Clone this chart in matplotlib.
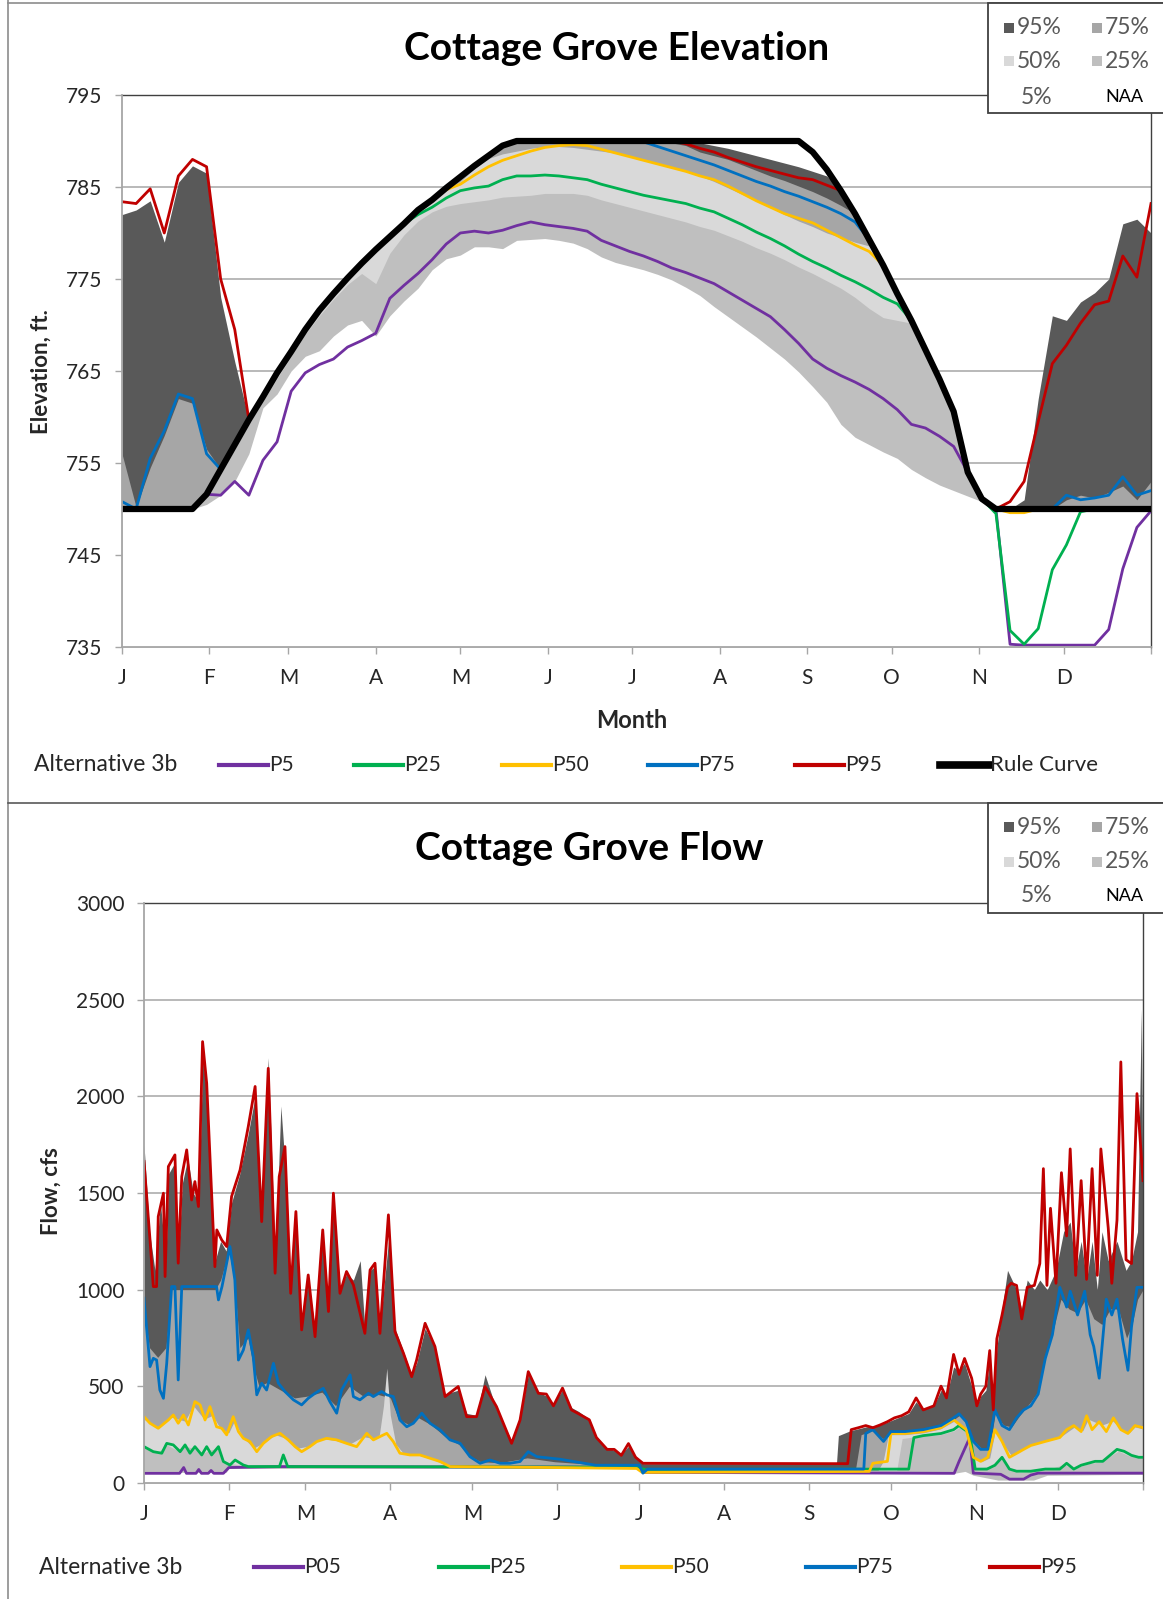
import numpy as np
import matplotlib
matplotlib.use("Agg")
import matplotlib.pyplot as plt
from matplotlib.lines import Line2D
from matplotlib.patches import Rectangle

plt.rcParams['font.family'] = ['Lato', 'DejaVu Sans']

W, H = 1163, 1599

# ---------------- elevation data (ft), every 5 days ----------------
elev_days = list(range(0, 366, 5))

rule_curve = [750, 750, 750, 750, 750, 750, 751.6, 754.3, 757.0, 759.7,
              762.2, 764.8, 767.1, 769.5, 771.6, 773.4, 775.1, 776.7, 778.2, 779.6,
              781.0, 782.5, 783.6, 784.9, 786.1, 787.3, 788.4, 789.5, 790, 790,
              790, 790, 790, 790, 790, 790, 790, 790, 790, 790,
              790, 790, 790, 790, 790, 790, 790, 790, 790, 788.8,
              786.9, 784.6, 782.1, 779.3, 776.5, 773.4, 770.5, 767.3, 764.1, 760.6,
              754.0, 751.1, 750, 750, 750, 750, 750, 750, 750, 750,
              750, 750, 750, 750]

elev_p95 = [783.4, 783.2, 784.8, 780.0, 786.2, 788.0, 787.2, 775.0, 769.5, 759.7,
            762.2, 764.8, 767.1, 769.5, 771.6, 773.4, 775.1, 776.7, 778.2, 779.6,
            781.0, 782.5, 783.6, 784.9, 786.1, 787.3, 788.4, 789.5, 790, 790,
            790, 790, 790, 790, 790, 790, 790, 790, 790, 790,
            789.7, 789.2, 788.8, 788.2, 787.7, 787.2, 786.8, 786.4, 786.0, 785.8,
            785.2, 784.6, 782.1, 779.3, 776.5, 773.4, 770.5, 767.3, 764.1, 760.6,
            754.0, 751.1, 750, 750.8, 753.0, 759.5, 765.8, 767.8, 770.2, 772.2,
            772.6, 777.5, 775.2, 783.2]

elev_p75 = [750.8, 750, 755.5, 758.5, 762.5, 762.0, 756.0, 754.3, 757.0, 759.7,
            762.2, 764.8, 767.1, 769.5, 771.6, 773.4, 775.1, 776.7, 778.2, 779.6,
            781.0, 782.5, 783.6, 784.9, 786.1, 787.3, 788.4, 789.5, 790, 790,
            790, 790, 790, 790, 790, 790, 790, 789.9, 789.4, 788.9,
            788.4, 787.9, 787.4, 786.8, 786.2, 785.6, 785.1, 784.5, 784.0, 783.4,
            782.8, 782.1, 781.2, 779.3, 776.5, 773.4, 770.5, 767.3, 764.1, 760.6,
            754.0, 751.1, 750, 750, 750, 750, 750, 751.5, 751.0, 751.2,
            751.5, 753.5, 751.5, 752.0]

elev_p50 = [750, 750, 750, 750, 750, 750, 751.6, 754.3, 757.0, 759.7,
            762.2, 764.8, 767.1, 769.5, 771.6, 773.4, 775.1, 776.7, 778.2, 779.6,
            781.0, 782.5, 783.6, 784.7, 785.3, 786.3, 787.2, 787.9, 788.4, 788.9,
            789.3, 789.5, 789.6, 789.5, 789.1, 788.7, 788.3, 787.9, 787.5, 787.1,
            786.7, 786.2, 785.8, 785.1, 784.3, 783.5, 782.8, 782.1, 781.6, 781.1,
            780.3, 779.5, 778.7, 778.0, 776.5, 773.4, 770.5, 767.3, 764.1, 760.6,
            754.0, 751.1, 750, 749.6, 749.6, 750, 750, 750, 750, 750,
            750, 750, 750, 750]

elev_p25 = [750, 750, 750, 750, 750, 750, 751.6, 754.3, 757.0, 759.7,
            762.2, 764.8, 767.1, 769.5, 771.6, 773.4, 775.1, 776.7, 778.2, 779.6,
            781.0, 782.0, 782.8, 783.8, 784.6, 784.9, 785.1, 785.8, 786.2, 786.2,
            786.3, 786.2, 786.0, 785.8, 785.3, 784.9, 784.5, 784.1, 783.8, 783.5,
            783.2, 782.7, 782.3, 781.6, 780.9, 780.1, 779.4, 778.6, 777.7, 776.9,
            776.2, 775.4, 774.7, 773.9, 773.0, 772.3, 770.5, 767.3, 764.1, 760.6,
            754.0, 751.1, 749.5, 736.8, 735.3, 737.0, 743.4, 746.1, 749.7, 750,
            750, 750, 750, 750]

elev_p5 = [750, 750, 750, 750, 750, 750, 751.6, 751.5, 753.0, 751.5,
           755.3, 757.3, 762.8, 764.8, 765.7, 766.3, 767.6, 768.3, 769.1, 772.9,
           774.3, 775.6, 777.1, 778.8, 780.0, 780.2, 780.0, 780.3, 780.8, 781.2,
           780.9, 780.7, 780.5, 780.2, 779.2, 778.6, 778.0, 777.5, 776.9, 776.2,
           775.7, 775.1, 774.5, 773.6, 772.7, 771.8, 770.9, 769.5, 768.0, 766.3,
           765.3, 764.5, 763.8, 763.0, 762.0, 760.8, 759.2, 758.8, 757.9, 756.8,
           754.0, 751.1, 750, 735.3, 735.2, 735.2, 735.2, 735.2, 735.2, 735.2,
           736.9, 743.5, 748.0, 749.8]

# No Action Alternative percentile bands
naa_elev_p95 = [782.0, 782.5, 783.5, 779.0, 785.5, 787.3, 786.5, 773.0, 766.0, 759.7,
                762.2, 764.8, 767.1, 769.5, 771.6, 773.4, 775.1, 776.7, 778.2, 779.6,
                781.0, 782.5, 783.6, 784.9, 786.1, 787.3, 788.4, 789.5, 790, 790,
                790, 790, 790, 790, 790, 790, 790, 790, 790, 790,
                790, 789.8, 789.5, 789.2, 788.8, 788.4, 788.0, 787.6, 787.2, 786.7,
                786.2, 784.6, 782.1, 779.3, 776.5, 773.4, 770.5, 767.3, 764.1, 760.6,
                754.0, 751.1, 750, 750, 751.0, 762.0, 771.0, 770.5, 772.5, 773.5,
                775.0, 781.0, 781.5, 780.0]

naa_elev_p75 = [756.0, 750.2, 754.5, 758.0, 762.0, 761.5, 756.5, 754.3, 757.0, 759.7,
                762.2, 764.8, 767.1, 769.5, 771.6, 773.4, 775.1, 776.7, 778.2, 779.6,
                781.0, 782.5, 783.6, 784.9, 786.1, 787.3, 788.4, 789.5, 790, 790,
                790, 790, 790, 790, 790, 790, 790, 790, 790, 789.8,
                789.5, 788.8, 788.4, 788.0, 787.4, 786.8, 786.2, 785.7, 785.1, 784.5,
                783.8, 783.0, 782.1, 779.3, 776.5, 773.4, 770.5, 767.3, 764.1, 760.6,
                754.0, 751.1, 750, 750, 750, 750, 750, 751.0, 751.5, 751.2,
                751.8, 752.5, 751.0, 753.0]

naa_elev_p50 = [750, 750, 750, 750, 750, 750, 751.4, 754.1, 756.8, 759.5,
                762.0, 764.6, 766.9, 769.3, 771.4, 773.2, 774.9, 776.5, 778.0, 779.4,
                780.8, 782.2, 783.4, 784.6, 785.6, 787.0, 788.1, 788.6, 788.9, 789.2,
                789.4, 789.4, 789.3, 789.1, 788.9, 788.7, 788.3, 787.9, 787.6, 787.2,
                786.7, 786.2, 785.6, 784.9, 784.2, 783.5, 782.8, 782.0, 781.3, 780.7,
                780.0, 779.5, 779.0, 778.6, 776.5, 773.4, 770.5, 767.3, 764.1, 760.6,
                754.0, 751.1, 750, 750, 750, 750, 750, 750, 750, 750,
                750, 750, 750, 750]

naa_elev_p25 = [750, 750, 750, 750, 750, 750, 751.2, 753.8, 756.5, 759.2,
                761.7, 764.2, 766.6, 769.0, 771.0, 772.8, 774.4, 775.6, 774.5, 777.8,
                779.8, 781.3, 782.3, 782.9, 783.2, 783.4, 783.6, 783.9, 784.0, 784.1,
                784.3, 784.3, 784.3, 784.1, 783.6, 783.2, 782.8, 782.4, 782.0, 781.6,
                781.2, 780.7, 780.3, 779.7, 779.1, 778.4, 777.8, 777.1, 776.3, 775.6,
                774.8, 774.0, 773.0, 771.8, 770.8, 770.5, 770.2, 767.3, 764.1, 760.6,
                754.0, 751.1, 750, 750, 750, 750, 750, 750, 750, 750,
                750, 750, 750, 750]

naa_elev_p5 = [750, 750, 750, 750, 750, 750, 750.5, 751.5, 753.0, 756.0,
               761.0, 762.5, 765.0, 766.6, 767.2, 768.8, 770.0, 770.5, 768.8, 771.0,
               772.6, 774.0, 776.0, 777.2, 777.6, 778.5, 778.5, 778.3, 779.2, 779.3,
               779.4, 779.2, 778.9, 778.3, 777.4, 776.8, 776.4, 776.0, 775.5, 774.9,
               774.1, 773.2, 772.0, 770.9, 769.8, 768.7, 767.5, 766.3, 764.9, 763.3,
               761.6, 759.2, 757.8, 757.0, 756.2, 755.5, 754.3, 753.4, 752.6, 752.0,
               751.4, 750.8, 750, 750, 750, 750, 750, 750, 750, 750,
               750, 750, 750, 750]

# ---------------- flow data (cfs), (day, value) ----------------
flow_p95 = [(0, 1663), (2.2, 1257), (3.4, 1016), (4.6, 1016), (5.2, 1378), (7.1, 1499), (7.7, 1068),
            (8.9, 1637), (11.3, 1697), (12.5, 1137), (13.8, 1585), (15.6, 1723), (17.4, 1464),
            (18.6, 1559), (19.9, 1430), (21.4, 2283), (22.9, 2068), (25.9, 1119), (26.6, 1309),
            (28.4, 1257), (30.2, 1223), (32.0, 1482), (35.1, 1619), (38.1, 1844), (40.6, 2051),
            (43.0, 1352), (45.4, 2145), (47.9, 1085), (49.4, 1585), (51.5, 1740), (53.6, 981),
            (55.5, 1404), (57.6, 792), (60.0, 1076), (62.5, 757), (65.3, 1309), (67.4, 887),
            (69.2, 1499), (71.6, 981), (74.0, 1094), (76.5, 1025), (80.7, 774), (82.6, 1102),
            (84.4, 1137), (86.2, 774), (89.3, 1387), (91.7, 783), (94.8, 671), (97.8, 550),
            (99.6, 636), (102.7, 826), (106.3, 706), (110.0, 447), (114.8, 499), (117.9, 343),
            (121.5, 343), (124.6, 499), (128.8, 395), (134.3, 205), (137.4, 326), (140.4, 576),
            (144.1, 464), (147.0, 460), (149.6, 399), (152.9, 491), (156.2, 378), (158.8, 358),
            (162.7, 327), (165.3, 235), (169.2, 174), (171.8, 174), (174.4, 143), (177.0, 204),
            (179.6, 133), (182.3, 102), (257.1, 100), (258.4, 276), (261.0, 286), (263.7, 297),
            (266.3, 286), (268.9, 300), (271.6, 317), (274.2, 337), (276.8, 348), (279.4, 368),
            (282.1, 440), (284.7, 378), (288.6, 399), (291.2, 501), (293.2, 440), (295.8, 665),
            (297.8, 562), (299.8, 644), (302.4, 542), (304.3, 399), (305.7, 460), (307.6, 501),
            (309.0, 685), (310.3, 378), (311.6, 746), (313.5, 869), (315.5, 1012), (316.8, 1033),
            (318.8, 1022), (320.7, 849), (322.7, 1012), (325.3, 1022), (327.3, 1135), (328.6, 1626),
            (329.9, 1022), (331.2, 1421), (333.2, 1033), (335.2, 1605), (337.1, 1278), (338.4, 1728),
            (340.4, 1074), (342.4, 1564), (344.4, 1053), (346.4, 1626), (348.3, 1074), (349.6, 1728),
            (352.3, 1319), (353.6, 1033), (355.5, 1360), (356.9, 2178), (358.8, 1155), (360.8, 1135),
            (362.8, 2014), (365, 1564)]

flow_p75 = [(0, 956), (2.2, 602), (3.4, 645), (4.6, 636), (5.8, 481), (7.1, 438), (8.3, 619),
            (10.1, 1016), (11.3, 1016), (12.5, 533), (13.8, 1016), (26.5, 1016), (27.2, 947),
            (28.5, 1016), (31.4, 1223), (33.2, 1050), (34.5, 636), (36.3, 688), (38.1, 792),
            (39.9, 654), (41.2, 456), (43.0, 516), (44.8, 481), (47.3, 619), (49.1, 516),
            (51.5, 473), (54.6, 430), (57.6, 404), (60.0, 438), (62.5, 464), (65.5, 490),
            (67.9, 421), (70.4, 361), (72.2, 481), (75.3, 559), (76.5, 447), (78.9, 430),
            (82.0, 464), (83.8, 447), (86.8, 473), (88.7, 456), (91.1, 447), (93.5, 326),
            (96.0, 291), (98.4, 309), (101.5, 361), (104.5, 309), (108.2, 274), (111.8, 223),
            (115.5, 205), (119.1, 136), (122.8, 102), (126.4, 119), (130.1, 102), (133.7, 102),
            (137.4, 111), (140.4, 162), (143.5, 136), (152.0, 123), (165.0, 92), (181.0, 92),
            (182.3, 51), (184.0, 72), (263.0, 72), (263.7, 256), (266.3, 276), (270.2, 215),
            (272.9, 266), (278.1, 266), (284.7, 276), (291.2, 297), (295.8, 337), (297.8, 358),
            (300.4, 317), (303.0, 215), (305.7, 174), (308.3, 174), (310.9, 378), (313.5, 297),
            (316.2, 276), (318.8, 337), (321.4, 378), (324.0, 399), (326.7, 460), (329.3, 644),
            (331.9, 767), (334.6, 1012), (337.1, 910), (338.4, 992), (341.1, 869), (343.7, 992),
            (345.7, 767), (347.0, 706), (349.0, 542), (351.6, 951), (353.6, 869), (355.5, 951),
            (357.5, 746), (359.5, 583), (360.8, 808), (362.8, 1012), (365, 1012)]

flow_p50 = [(0, 343), (2.2, 309), (5.2, 283), (8.9, 326), (10.7, 352), (12.5, 309), (14.4, 352),
            (16.2, 300), (18.6, 421), (20.5, 404), (22.3, 326), (24.1, 395), (26.5, 291),
            (28.4, 283), (30.2, 249), (32.6, 343), (34.5, 266), (36.3, 231), (38.7, 214),
            (41.2, 162), (43.6, 205), (46.6, 240), (49.7, 257), (52.7, 223), (55.2, 188),
            (57.6, 162), (60.6, 188), (63.1, 214), (66.7, 231), (70.4, 223), (74.0, 205),
            (77.7, 188), (81.4, 257), (83.8, 223), (86.2, 240), (88.7, 257), (91.1, 214),
            (93.5, 154), (97.2, 145), (100.8, 145), (104.5, 128), (108.2, 111), (111.8, 85),
            (150.0, 80), (180.0, 75), (182.0, 55), (265.0, 60), (266.3, 102), (271.6, 112),
            (272.9, 256), (278.1, 256), (284.7, 266), (291.2, 286), (295.8, 327), (300.4, 276),
            (303.0, 133), (305.7, 112), (308.3, 133), (310.9, 276), (313.5, 215), (316.2, 133),
            (318.8, 153), (321.4, 174), (324.0, 194), (329.3, 215), (334.6, 235), (337.1, 276),
            (339.7, 297), (342.4, 266), (344.4, 348), (346.4, 276), (349.0, 317), (351.6, 266),
            (354.2, 337), (356.9, 276), (359.5, 256), (362.1, 297), (365, 286)]

flow_p25 = [(0, 188), (3.4, 162), (6.5, 154), (8.3, 205), (10.7, 197), (13.2, 162), (15.0, 197),
            (16.8, 154), (18.6, 188), (21.1, 145), (22.9, 188), (24.7, 145), (27.2, 188),
            (29.0, 111), (31.4, 93), (33.3, 119), (36.3, 93), (38.1, 85), (49.5, 85), (50.9, 145),
            (52.5, 85), (180.0, 82), (183.0, 70), (279.4, 72), (281.3, 235), (284.7, 245),
            (291.2, 256), (295.8, 276), (297.8, 297), (301.7, 256), (303.7, 72), (308.0, 72),
            (310.9, 92), (313.5, 133), (316.2, 72), (318.8, 61), (324.0, 61), (329.3, 72),
            (334.6, 72), (337.1, 102), (339.7, 72), (342.4, 92), (347.5, 112), (350.3, 112),
            (352.9, 143), (355.5, 174), (358.1, 164), (360.8, 143), (363.4, 133), (365, 133)]

flow_p05 = [(0, 50), (13.0, 50), (14.5, 80), (15.5, 50), (19.0, 50), (20.0, 70), (21.0, 50),
            (23.5, 50), (24.5, 65), (25.5, 50), (29.0, 50), (31.0, 80), (50.0, 85), (180.0, 82),
            (183.0, 55), (296.0, 50), (297.8, 112), (300.4, 194), (301.7, 235), (303.0, 51),
            (313.0, 45), (316.2, 20), (321.4, 20), (324.0, 41), (326.7, 51), (365, 51)]

naa_flow_p95 = [(0, 1750), (2, 1300), (4, 1100), (6, 1450), (8, 1150), (9, 1600), (11, 1650),
                (12.5, 1150), (14, 1550), (16, 1680), (18, 1500), (20, 1450), (21.5, 2200),
                (23, 2000), (26, 1150), (28, 1250), (30, 1200), (32, 1450), (35, 1600), (38, 1800),
                (40.6, 2000), (43, 1380), (45.4, 2200), (48, 1150), (50, 1950), (51.5, 1650),
                (53.6, 1000), (55.5, 1380), (57.6, 820), (60, 1050), (62.5, 800), (65.3, 1280),
                (67.4, 900), (69.2, 1450), (71.6, 1000), (74, 1080), (76.5, 1050), (79, 1150),
                (80.7, 800), (82.6, 1100), (84.4, 1120), (86.2, 800), (89.3, 1250), (91.7, 800),
                (94.8, 680), (97.8, 560), (99.6, 620), (102.7, 800), (106.3, 700), (110, 460),
                (114.8, 480), (117.9, 360), (121.5, 350), (124.6, 560), (128.8, 380), (134.3, 220),
                (137.4, 330), (140.4, 560), (144.1, 470), (147, 450), (149.6, 410), (152.9, 480),
                (156.2, 390), (158.8, 370), (162.7, 330), (165.3, 240), (169.2, 180), (171.8, 170),
                (174.4, 150), (177, 190), (179.6, 140), (182.3, 100), (253, 100), (253.7, 245),
                (258, 270), (263.7, 290), (268.9, 300), (274.2, 330), (279.4, 360), (282.1, 420),
                (284.7, 380), (288.6, 400), (291.2, 480), (293.2, 450), (295.8, 600), (297.8, 580),
                (299.8, 620), (302.4, 500), (304.3, 400), (305.7, 450), (307.6, 480), (309, 640),
                (310.3, 400), (311.6, 700), (313.5, 900), (315.5, 1100), (318.8, 1000),
                (320.7, 900), (322.7, 1050), (325.3, 1000), (327.3, 1050), (330, 1000),
                (333.2, 1100), (336, 1300), (338.4, 1350), (340.4, 1100), (342.4, 1250),
                (344.4, 1050), (346.4, 1250), (348.3, 1000), (350, 1300), (352.3, 1150),
                (355.5, 1250), (358.8, 1100), (360.8, 1150), (363, 1300), (364.4, 2450), (365, 1400)]

naa_flow_p75 = [(0, 900), (2, 700), (5, 650), (8, 700), (10, 1000), (26, 1000), (28, 1050),
                (31, 1200), (33, 1050), (35, 700), (38, 750), (40, 600), (42, 500), (45, 520),
                (50, 480), (55, 440), (60, 450), (65, 470), (70, 400), (75, 500), (80, 450),
                (85, 460), (90, 440), (93, 330), (97, 300), (100, 340), (105, 300), (110, 240),
                (115, 200), (119, 140), (123, 110), (130, 105), (140, 130), (150, 110), (165, 95),
                (180, 90), (182, 75), (260, 75), (262, 250), (266, 270), (270, 230), (275, 260),
                (280, 265), (285, 275), (291, 295), (296, 330), (298, 350), (300, 320), (303, 220),
                (306, 180), (309, 180), (311, 360), (314, 300), (317, 290), (320, 350), (324, 420),
                (327, 480), (329, 640), (332, 780), (335, 950), (338, 900), (341, 880), (344, 950),
                (347, 850), (350, 820), (353, 900), (356, 900), (359, 750), (361, 820), (363, 950),
                (365, 1000)]

naa_flow_p50 = [(0, 330), (5, 290), (10, 340), (15, 320), (18, 400), (22, 330), (25, 350),
                (28, 280), (31, 260), (33, 320), (36, 240), (40, 180), (44, 210), (48, 250),
                (52, 230), (56, 180), (60, 190), (65, 230), (70, 220), (75, 200), (80, 240),
                (84, 230), (86, 250), (87.5, 400), (88.7, 594), (90, 350), (92, 200), (95, 150),
                (100, 145), (105, 125), (110, 95), (115, 85), (180, 75), (182, 60), (268, 60),
                (270, 110), (272, 250), (278, 250), (285, 260), (291, 280), (296, 320), (300, 270),
                (303, 130), (306, 110), (309, 130), (311, 270), (314, 200), (317, 140), (320, 170),
                (324, 200), (330, 220), (335, 240), (340, 290), (343, 270), (345, 330), (350, 300),
                (354, 320), (357, 280), (360, 260), (362, 290), (365, 280)]

naa_flow_p25 = [(0, 180), (5, 155), (8, 200), (12, 170), (15, 190), (18, 180), (21, 150),
                (24, 170), (27, 180), (29, 115), (32, 100), (36, 90), (40, 85), (180, 80),
                (183, 65), (275, 65), (277, 230), (285, 245), (291, 250), (296, 270), (298, 290),
                (301, 250), (303, 70), (310, 90), (313, 130), (316, 70), (320, 55), (330, 70),
                (336, 95), (340, 75), (345, 100), (350, 110), (353, 140), (356, 165), (360, 140),
                (365, 130)]

naa_flow_p5 = [(0, 55), (30, 55), (31, 75), (180, 75), (183, 50), (296, 50), (300, 60),
               (303, 40), (312, 15), (325, 15), (330, 40), (365, 45)]

month_days = [0, 31, 59, 90, 120, 151, 181, 212, 243, 273, 304, 334]
month_labels = ['J', 'F', 'M', 'A', 'M', 'J', 'J', 'A', 'S', 'O', 'N', 'D']

band_colors = {'95%': '#595959', '75%': '#a6a6a6', '50%': '#d9d9d9', '25%': '#bfbfbf', '5%': '#ffffff'}
line_colors = {'P5': '#7030a0', 'P25': '#00b050', 'P50': '#ffc000', 'P75': '#0070c0', 'P95': '#c00000'}


def fx(px):
    return px / W


def fy(py):
    return 1 - py / H


def xy(pairs):
    return [p[0] for p in pairs], [p[1] for p in pairs]


def style_axes(ax, ymin, ymax, ystep):
    ax.set_xlim(0, 365)
    ax.set_ylim(ymin, ymax)
    ax.set_yticks(np.arange(ymin, ymax + 1, ystep))
    ax.set_xticks(month_days + [365])
    ax.set_xticklabels(month_labels + [''])
    ax.set_axisbelow(True)
    ax.yaxis.grid(True, color='#a6a6a6', lw=1.1)
    for s in ['top', 'right']:
        ax.spines[s].set_color('#404040')
        ax.spines[s].set_linewidth(1.0)
    for s in ['left', 'bottom']:
        ax.spines[s].set_color('#a6a6a6')
        ax.spines[s].set_linewidth(1.3)
        ax.spines[s].set_zorder(5)
    ax.tick_params(direction='out', length=5, width=1, color='#a6a6a6',
                   labelsize=15, labelcolor='#262626')
    ax.tick_params(axis='x', pad=10)
    ax.tick_params(axis='y', pad=9)


fig = plt.figure(figsize=(W / 100, H / 100), dpi=100)

# ---------------- elevation panel ----------------
ax1 = fig.add_axes([fx(122), fy(647), fx(1151 - 122), (647 - 95) / H])
style_axes(ax1, 735, 795, 10)
for lab, band in [('95%', naa_elev_p95), ('75%', naa_elev_p75), ('50%', naa_elev_p50),
                  ('25%', naa_elev_p25), ('5%', naa_elev_p5)]:
    ax1.fill_between(elev_days, 735, band, color=band_colors[lab], lw=0, zorder=1)
for lab, s in [('P5', elev_p5), ('P25', elev_p25), ('P50', elev_p50), ('P75', elev_p75), ('P95', elev_p95)]:
    ax1.plot(elev_days, s, color=line_colors[lab], lw=2.0, zorder=3, solid_joinstyle='round')
ax1.plot(elev_days, rule_curve, color='black', lw=4.5, zorder=4,
         solid_joinstyle='round', solid_capstyle='round')

# ---------------- flow panel ----------------
ax2 = fig.add_axes([fx(144), fy(1483), fx(1143 - 144), (1483 - 903) / H])
style_axes(ax2, 0, 3000, 500)
for lab, band in [('95%', naa_flow_p95), ('75%', naa_flow_p75), ('50%', naa_flow_p50),
                  ('25%', naa_flow_p25), ('5%', naa_flow_p5)]:
    d, v = xy(band)
    ax2.fill_between(d, 0, v, color=band_colors[lab], lw=0, zorder=1)
for lab, s in [('P5', flow_p05), ('P25', flow_p25), ('P50', flow_p50), ('P75', flow_p75), ('P95', flow_p95)]:
    d, v = xy(s)
    ax2.plot(d, v, color=line_colors[lab], lw=2.0, zorder=3, solid_joinstyle='round')

# ---------------- text ----------------
fig.text(fx(617), fy(49), 'Cottage Grove Elevation', ha='center', va='center',
         fontsize=28, fontweight='bold', color='black')
fig.text(fx(589), fy(848), 'Cottage Grove Flow', ha='center', va='center',
         fontsize=28, fontweight='bold', color='black')
fig.text(fx(41), fy(372), 'Elevation, ft.', rotation=90, ha='center', va='center',
         fontsize=16, fontweight='bold', color='#262626')
fig.text(fx(51), fy(1191), 'Flow, cfs', rotation=90, ha='center', va='center',
         fontsize=16, fontweight='bold', color='#262626')
fig.text(fx(632), fy(720), 'Month', ha='center', va='center',
         fontsize=17, fontweight='bold', color='#262626')

# ---------------- chart borders ----------------
border = '#8c8c8c'
fig.add_artist(Line2D([fx(8), fx(8)], [fy(0), fy(H)], color=border, lw=1.2))
fig.add_artist(Line2D([fx(8), 1], [fy(3), fy(3)], color=border, lw=1.2))
fig.add_artist(Line2D([fx(8), 1], [fy(803), fy(803)], color='#595959', lw=1.2))

# ---------------- series legends ----------------
def series_legend(ybase, xtitle, items):
    fig.text(fx(xtitle), fy(ybase), 'Alternative 3b', ha='left', va='center',
             fontsize=16.5, color='#262626')
    for x0, lab, col, lw in items:
        fig.add_artist(Line2D([fx(x0), fx(x0 + 49)], [fy(ybase), fy(ybase)], color=col, lw=lw))
        fs = 16 if lab == 'Rule Curve' else 15
        fig.text(fx(x0 + 50), fy(ybase), lab, ha='left', va='center', fontsize=fs, color='#262626')


series_legend(765, 34, [(219, 'P5', line_colors['P5'], 3), (354, 'P25', line_colors['P25'], 3),
                        (502, 'P50', line_colors['P50'], 3), (648, 'P75', line_colors['P75'], 3),
                        (795, 'P95', line_colors['P95'], 3), (940, 'Rule Curve', 'black', 5.5)])
series_legend(1567, 39, [(254, 'P05', line_colors['P5'], 3), (439, 'P25', line_colors['P25'], 3),
                         (622, 'P50', line_colors['P50'], 3), (806, 'P75', line_colors['P75'], 3),
                         (990, 'P95', line_colors['P95'], 3)])

# ---------------- NAA band legends ----------------
def band_legend(top, rows):
    fig.add_artist(Rectangle((fx(988), fy(top + 110)), 1 - fx(988) + 0.01, 110 / H,
                             transform=fig.transFigure, facecolor='white',
                             edgecolor='#404040', lw=1.3, zorder=10))
    r1, r2, r3 = rows
    for (xs, lab), yy in [((1009, '95%'), r1), ((1097, '75%'), r1), ((1009, '50%'), r2), ((1097, '25%'), r2)]:
        fig.add_artist(Rectangle((fx(xs - 5), fy(yy + 5)), 10 / W, 10 / H, transform=fig.transFigure,
                                 facecolor=band_colors[lab], edgecolor='none', zorder=11))
        fig.text(fx(xs + 8), fy(yy), lab, ha='left', va='center', fontsize=16.5,
                 color='#595959', zorder=12)
    fig.text(fx(1037), fy(r3), '5%', ha='center', va='center', fontsize=16.5, color='#595959', zorder=12)
    fig.text(fx(1124), fy(r3), 'NAA', ha='center', va='center', fontsize=13, color='black', zorder=12)


band_legend(3, (28, 61, 97))
band_legend(803, (827, 862, 896))

fig.savefig('out.png', dpi=100)
